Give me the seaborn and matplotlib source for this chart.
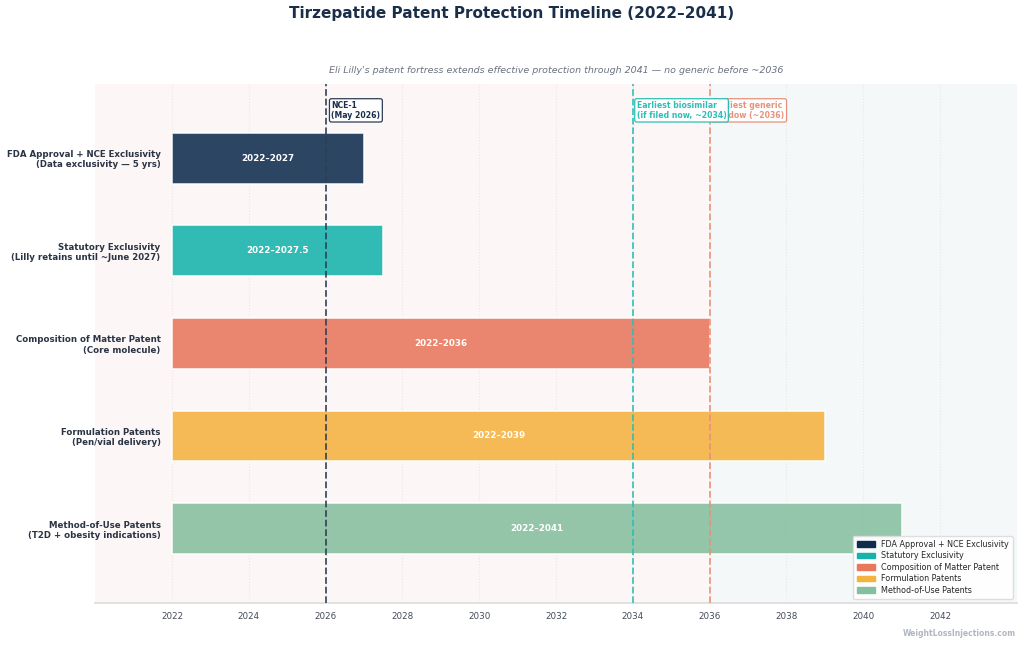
import matplotlib.pyplot as plt
import matplotlib.patches as mpatches
import seaborn as sns
import pandas as pd

# data
categories = [
    "FDA Approval + NCE Exclusivity\n(Data exclusivity — 5 yrs)",
    "Statutory Exclusivity\n(Lilly retains until ~June 2027)",
    "Composition of Matter Patent\n(Core molecule)",
    "Formulation Patents\n(Pen/vial delivery)",
    "Method-of-Use Patents\n(T2D + obesity indications)",
]
legend_names = [
    "FDA Approval + NCE Exclusivity",
    "Statutory Exclusivity",
    "Composition of Matter Patent",
    "Formulation Patents",
    "Method-of-Use Patents",
]
starts = [2022, 2022, 2022, 2022, 2022]
ends = [2027, 2027.5, 2036, 2039, 2041]
bar_labels = ["2022–2027", "2022–2027.5", "2022–2036", "2022–2039", "2022–2041"]
colors = ["#0f2c4e", "#14b3ab", "#e8775c", "#f4b23f", "#86bf9f"]

markers = [2026, 2034, 2036]
marker_text = ["NCE-1\n(May 2026)", "Earliest biosimilar\n(if filed now, ~2034)",
               "Earliest generic\nwindow (~2036)"]
marker_colors = ["#2c3e55", "#2bbfb5", "#e8917a"]
xticks = [2022, 2024, 2026, 2028, 2030, 2032, 2034, 2036, 2038, 2040, 2042]

df = pd.DataFrame({"cat": categories, "start": starts, "end": ends})

sns.set_theme(style="white")
plt.rcParams['font.family'] = ['DejaVu Sans']

fig, ax = plt.subplots(figsize=(10.24, 6.46), dpi=100)
fig.subplots_adjust(left=0.093, right=0.993, top=0.87, bottom=0.067)

sns.barplot(data=df, x="end", y="cat", hue="cat", palette=colors, legend=False,
            saturation=1, width=0.55, alpha=0.88, edgecolor="white", linewidth=1.2,
            ax=ax, zorder=2)
bars = list(ax.patches)

# background zones
ax.axvspan(2020, 2036, color="#fdf6f6", zorder=0)
ax.axvspan(2036, 2044, color="#f5f8f8", zorder=0)

# move bars so they start at their start year
for p, s, e, lab in zip(bars, starts, ends, bar_labels):
    p.set_x(s)
    p.set_width(e - s)
    cy = p.get_y() + p.get_height() / 2
    ax.text((s + e) / 2, cy, lab, ha="center", va="center", color="white",
            fontsize=6.3, fontweight="bold", zorder=4)

for x, c in zip(markers, marker_colors):
    ax.axvline(x, color=c, linestyle="--", linewidth=1.3, alpha=0.9, zorder=3)

# marker labels (generic first so biosimilar box sits on top)
ax.text(markers[2] + 0.1, -0.62, marker_text[2], color=marker_colors[2], fontsize=5.6,
        fontweight="bold", va="top", ha="left", zorder=5,
        bbox=dict(boxstyle="round,pad=0.25", fc="white", ec=marker_colors[2], lw=0.9))
ax.text(markers[1] + 0.1, -0.62, marker_text[1], color=marker_colors[1], fontsize=5.6,
        fontweight="bold", va="top", ha="left", zorder=6,
        bbox=dict(boxstyle="round,pad=0.25", fc="white", ec=marker_colors[1], lw=0.9))
ax.text(markers[0] + 0.15, -0.62, marker_text[0], color="#1a2e4a", fontsize=5.6,
        fontweight="bold", va="top", ha="left", zorder=6,
        bbox=dict(boxstyle="round,pad=0.25", fc="white", ec="#2c3e55", lw=0.9))

ax.set_xlim(2020, 2044)
ax.set_ylim(4.8, -0.8)
ax.set_xticks(xticks)
ax.set_xticklabels([str(t) for t in xticks], fontsize=6.3, color="#444c58")
ax.tick_params(axis="x", length=3, color="#cccccc")
ax.set_yticks(range(len(categories)))
ax.set_yticklabels(categories, fontsize=6.2, fontweight="bold", color="#2a3444")
ax.tick_params(axis="y", length=0, pad=-47)
ax.set_xlabel("")
ax.set_ylabel("")
ax.grid(axis="x", color="#e8e8e8", linestyle=":", linewidth=0.8, zorder=1)
ax.set_axisbelow(True)
for sp in ["top", "right", "left"]:
    ax.spines[sp].set_visible(False)
ax.spines["bottom"].set_color("#dddddd")

handles = [mpatches.Patch(color=c, label=n) for c, n in zip(colors, legend_names)]
ax.legend(handles=handles, loc="lower right", fontsize=5.8, frameon=True,
          framealpha=0.95, edgecolor="#dddddd", handlelength=2.2,
          borderpad=0.5, labelspacing=0.3, bbox_to_anchor=(1.0, 0.0))

ax.set_title("Eli Lilly's patent fortress extends effective protection through 2041 — no generic before ~2036",
             fontsize=6.8, style="italic", color="#6b7280", pad=8)
fig.suptitle("Tirzepatide Patent Protection Timeline (2022–2041)", fontsize=11,
             fontweight="bold", color="#1a2e4a", y=0.99)
fig.text(0.992, 0.012, "WeightLossInjections.com", ha="right", va="bottom",
         fontsize=5.5, color="#b0b6c0", fontweight="bold")

fig.savefig("out.png", dpi=100)
